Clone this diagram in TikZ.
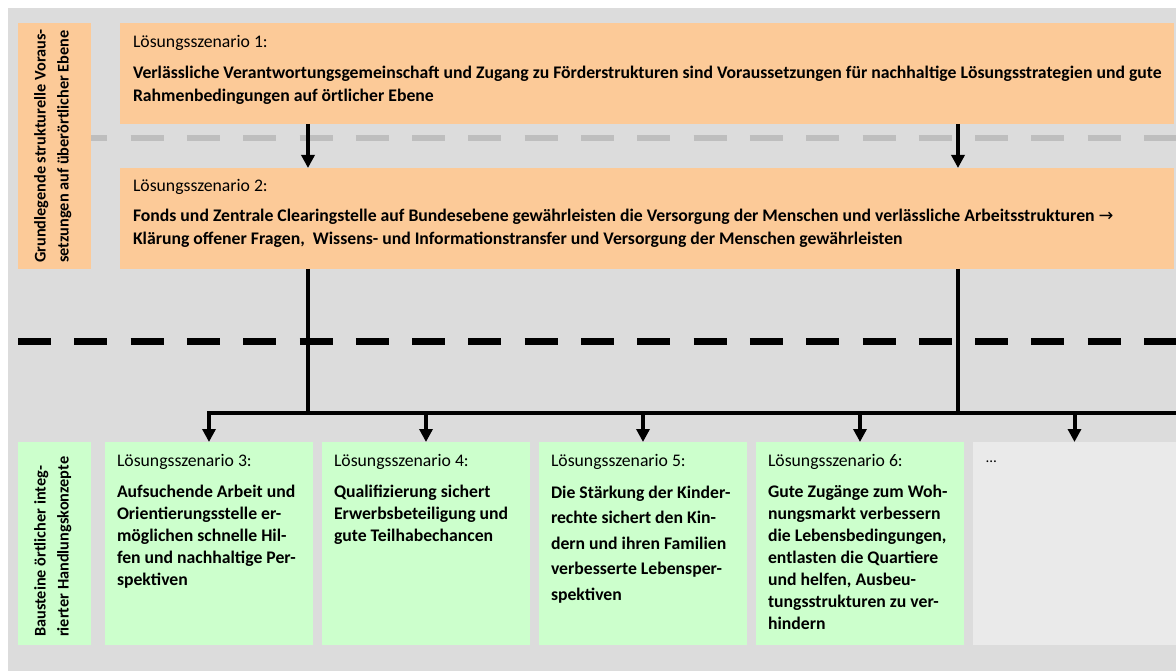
\documentclass[tikz,border=0pt]{standalone}
\usepackage{fontspec}
\setmainfont{Carlito}
\newfontfamily\arrowfont{DejaVu Sans}
\usetikzlibrary{arrows.meta}
\usetikzlibrary{positioning}

\definecolor{bggray}{HTML}{DCDCDC}
\definecolor{boxorange}{HTML}{FCCA98}
\definecolor{boxgreen}{HTML}{CCFFCC}
\definecolor{boxlight}{HTML}{EAEAEA}
\definecolor{dashgray}{HTML}{BEBEBE}

\begin{document}
\begin{tikzpicture}[x=1pt, y=-1pt,
  box/.style={rectangle, inner sep=0pt, outer sep=0pt, anchor=north west},
  sidebar/.style={box, minimum width=73pt},
  wide/.style={box, fill=boxorange, minimum width=1054pt, minimum height=101pt},
  small/.style={box, fill=boxgreen, minimum width=208pt, minimum height=203pt},
  txt/.style={inner sep=0pt, outer sep=0pt, align=left, anchor=north west, font=\bfseries\fontsize{17.7}{22}\selectfont},
  toptxt/.style={txt, font=\bfseries\fontsize{17.7}{23}\selectfont},
  sidetxt/.style={inner sep=0pt, align=left, rotate=90, anchor=north west, font=\bfseries\fontsize{16.3}{23}\selectfont},
  link/.style={line width=4pt},
  arr/.style={line width=4pt, -{Triangle[length=13pt,width=13pt]}},
  sepline/.style={line width=#1, dash pattern=on 33pt off 23.3pt}
]
  \useasboundingbox (0,0) rectangle (1176,671);
  \fill[bggray] (8,8) rectangle (1190,690);
  \draw[sepline=6pt, dashgray] (18,138) -- (1190,138);
  \draw[sepline=7pt, black] (18,341) -- (1190,341);

  \node (s1) [sidebar, fill=boxorange, minimum height=246pt] at (18,23) {};
  \node (box1) [wide] at (120,23) {};
  \node (box2) [wide] at (120,168) {};

  \node (s2) [sidebar, fill=boxgreen, minimum height=203pt] at (18,442) {};
  \node (b3) [small] at (105,442) {};
  \node (b4) [small, right=9pt of b3] {};
  \node (b5) [small, right=9pt of b4] {};
  \node (b6) [small, right=9pt of b5] {};
  \node (b7) [small, right=9pt of b6, fill=boxlight, minimum width=203pt] {};

  \node (ts1) [sidetxt] at ([shift={(16,-6)}]s1.south west) {Grundlegende strukturelle Voraus-\\setzungen auf überörtlicher Ebene};
  \node (ts2) [sidetxt] at ([shift={(16,-8)}]s2.south west) {Bausteine örtlicher integ-\\rierter Handlungskonzepte};

  \node (t1) [toptxt, below right=12.6pt and 13pt of box1.north west] {{\mdseries Lösungsszenario 1:}\\[8pt]
    Verlässliche Verantwortungsgemeinschaft und Zugang zu Förderstrukturen sind Voraussetzungen für nachhaltige Lösungsstrategien und gute\\
    Rahmenbedingungen auf örtlicher Ebene};
  \node (t2) [toptxt, below right=11.6pt and 13pt of box2.north west] {{\mdseries Lösungsszenario 2:}\\[7pt]
    Fonds und Zentrale Clearingstelle auf Bundesebene gewährleisten die Versorgung der Menschen und verlässliche Arbeitsstrukturen {\arrowfont\mdseries →}\\
    Klärung offener Fragen,\ \ Wissens- und Informationstransfer und Versorgung der Menschen gewährleisten};

  \node (t3) [txt, below right=12.4pt and 12pt of b3.north west] {{\mdseries Lösungsszenario 3:}\\[9.3pt]
    Aufsuchende Arbeit und\\Orientierungsstelle er-\\möglichen schnelle Hil-\\fen und nachhaltige Per-\\spektiven};
  \node (t4) [txt, below right=12.4pt and 12pt of b4.north west] {{\mdseries Lösungsszenario 4:}\\[9.3pt]
    Qualifizierung sichert\\Erwerbsbeteiligung und\\gute Teilhabechancen};
  \node (t5) [txt, below right=12.4pt and 12pt of b5.north west] {{\mdseries Lösungsszenario 5:}\\[9.5pt]
    Die Stärkung der Kinder-\\[3.6pt]rechte sichert den Kin-\\[3.6pt]dern und ihren Familien\\[3.6pt]verbesserte Lebensper-\\[3.6pt]spektiven};
  \node (t6) [txt, below right=12.4pt and 12pt of b6.north west] {{\mdseries Lösungsszenario 6:}\\[9.3pt]
    Gute Zugänge zum Woh-\\nungsmarkt verbessern\\die Lebensbedingungen,\\entlasten die Quartiere\\und helfen, Ausbeu-\\tungsstrukturen zu ver-\\hindern};
  \node (t7) [txt, font=\mdseries\fontsize{15}{22}\selectfont, below right=19pt and 13pt of b7.north west] {\dots};

  \coordinate (xa) at (308,0);
  \coordinate (xb) at (958,0);
  \coordinate (bus) at (1190,413);

  \draw [arr] (box1.south -| xa) -- (box2.north -| xa);
  \draw [arr] (box1.south -| xb) -- (box2.north -| xb);
  \draw [link] (box2.south -| xa) -- (bus -| xa);
  \draw [link] (box2.south -| xb) -- (bus -| xb);
  \draw [arr] (bus) -| (b3.north);
  \foreach \b in {b4,b5,b6,b7}
    \draw [arr] (bus -| \b.north) -- (\b.north);
\end{tikzpicture}
\end{document}
